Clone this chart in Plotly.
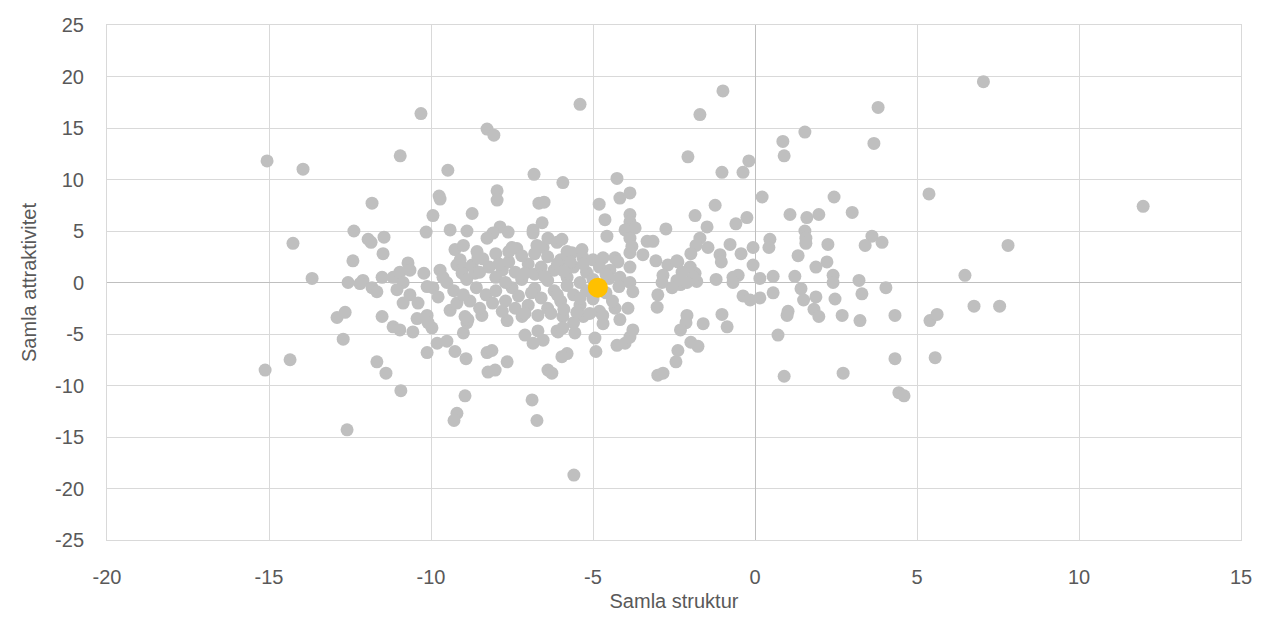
import plotly.graph_objects as go

# Gray points (Samla struktur, Samla attraktivitet)
gray_x = [
    -0.99, -1.70, 3.80, 1.54, 0.86, 0.90, 3.67, -2.07, -0.19, -1.02, -0.37, 0.22, 2.44, 5.37,
    -1.23, -1.85, -1.48, -0.59, -0.25, 1.08, 1.60, 1.97, 3.00, 1.54, 1.57, 1.57, 0.46, 0.43,
    2.25, 3.61, 3.92, 3.40, 1.33, 2.22, 1.88, 2.41, 1.23, 0.56, 3.21, 0.15, -0.06, -0.06,
    -0.43, -0.77, -1.08, -1.04, -1.45, -1.70, -1.82, -1.98, -2.38, -2.00, -2.25, -1.85, -1.20,
    -0.68, -0.52, 6.48, 4.04, 7.05, 11.98, 7.81, 6.76, 7.55,
    -2.30, -1.80, -0.68, 2.41, 0.56, -0.37, -0.15, 0.15, 1.42, 1.50, 1.88, 2.47, 3.30, 1.82,
    1.97, 1.02, 0.99, 2.69, 3.24, 4.32, 5.40, 5.62, -1.02, -0.86, -1.60, -2.10, -2.13, -2.30,
    -1.98, -1.76, -2.38, -2.44, 0.71, 0.90, 2.72, 4.32, 5.56, 4.44, 4.60,
    -1.91, -2.41, -2.56, -2.10, -2.75, -3.06, -2.69, -2.41, -2.84, -2.87, -3.00, -3.02, -3.00,
    -2.84, -3.46, -3.33, -3.15,
    -15.06, -13.95, -10.95, -11.82, -12.38, -11.94, -11.85, -11.45, -14.26, -12.41, -11.48,
    -13.67, -12.56, -12.10, -12.19, -11.51, -11.82, -11.67, -11.17, -10.96, -10.71, -10.65,
    -10.86, -11.05, -10.22, -10.65, -10.86, -10.40, -10.12, -12.90, -12.65, -12.71, -11.51,
    -11.17, -10.96, -10.56, -10.43, -10.12, -10.09, -9.97, -11.67, -11.39, -10.93, -14.35,
    -15.12, -12.59, -10.31, -10.15, -9.94, -10.12, -9.81,
    -9.75, -9.72, -7.96, -7.96, -8.73, -9.41, -8.89, -8.27, -8.06, -5.40, -9.48, -6.82, -5.93,
    -4.26, -4.81, -4.63, -4.17, -3.86, -6.67, -6.51, -7.87, -8.09, -7.62, -6.57, -6.85, -3.86,
    -3.86, -4.01, -3.70, -4.57, -3.86, -3.80, -3.86, -9.26, -9.00, -8.58, -8.27, -7.35, -6.85,
    -6.73, -6.54, -6.39, -6.11, -5.96, -5.80, -5.65, -5.34, -5.31, -4.69, -4.32, -4.23, -3.86,
    -4.48, -4.17, -3.86, -3.77, -9.20, -9.10, -9.00, -9.72, -9.63, -9.51, -9.94, -9.78, -9.41,
    -9.20, -8.43, -9.00, -8.89, -8.86, -8.95, -9.51, -9.26, -8.92, -8.95, -9.20, -9.29, -8.27,
    -8.12, -8.02, -8.24, -7.65, -6.88, -6.73, -5.59, -6.39, -6.27, -5.80, -5.96, -4.94, -4.91,
    -4.26, -4.01, -3.86, -3.77, -3.92, -4.32, -4.17, -4.69, -5.30, -5.60, -5.93, -6.08, -5.56,
    -7.10, -6.85, -6.70, -6.54, -6.11, -5.93, -7.65, -7.19, -8.73, -8.55, -9.04, -8.64,
    -8.50, -8.20, -8.00, -7.80, -7.60, -7.40, -7.20, -7.00, -6.80, -6.60, -6.40, -6.20, -6.00,
    -5.80, -5.60, -5.40, -5.20, -5.00, -8.60, -8.30, -8.00, -7.70, -7.50, -7.30, -7.00, -6.80,
    -6.60, -6.40, -6.20, -6.00, -5.80, -5.60, -5.40, -5.20, -5.00, -4.80, -4.60, -4.40, -4.20,
    -4.50, -8.80, -8.50, -8.10, -7.80, -7.40, -7.10, -6.70, -6.30, -5.90, -5.50, -5.10, -4.70,
    -8.40, -8.00, -7.60, -7.20, -6.80, -6.40, -6.10, -5.70, -5.00, -4.80, -4.60, -4.90, -7.90,
    -7.10, -6.50, -5.90, -5.30, -6.90, -6.10, -5.40, -7.70, -8.90, -9.30, -9.00, -7.50,
]
gray_y = [
    18.6, 16.3, 17.0, 14.6, 13.7, 12.3, 13.5, 12.2, 11.8, 10.7, 10.7, 8.3, 8.3, 8.6,
    7.5, 6.5, 5.4, 5.7, 6.3, 6.6, 6.3, 6.6, 6.8, 5.0, 4.3, 3.8, 4.2, 3.4,
    3.7, 4.5, 3.9, 3.6, 2.6, 2.0, 1.5, 0.7, 0.6, 0.6, 0.2, 0.4, 3.4, 1.7,
    2.8, 3.7, 2.7, 2.0, 3.4, 4.3, 3.6, 2.8, 2.0, 1.5, 1.0, 0.9, 0.3,
    0.5, 0.7, 0.7, -0.5, 19.5, 7.4, 3.6, -2.3, -2.3,
    -0.2, 0.1, 0.0, 0.0, -1.0, -1.3, -1.7, -1.5, -0.6, -1.7, -1.4, -1.6, -1.1, -2.6,
    -3.3, -2.8, -3.2, -3.2, -3.7, -3.2, -3.7, -3.1, -3.1, -4.3, -4.0, -3.2, -3.9, -4.6,
    -5.8, -6.2, -6.6, -7.7, -5.1, -9.1, -8.8, -7.4, -7.3, -10.7, -11.0,
    0.5, 0.2, -0.5, 0.0, 5.2, 2.1, 1.7, 2.1, 0.7, 0.0, -1.2, -2.4, -9.0,
    -8.8, 2.7, 4.0, 4.0,
    11.8, 11.0, 12.3, 7.7, 5.0, 4.2, 3.9, 4.4, 3.8, 2.1, 2.8,
    0.4, 0.0, 0.2, -0.1, 0.5, -0.5, -0.9, 0.5, 1.0, 1.9, 1.2,
    0.0, -0.7, 0.9, -1.2, -2.0, -2.0, -0.4, -3.4, -2.9, -5.5, -3.3,
    -4.3, -4.6, -4.8, -3.5, -3.2, -3.9, -4.4, -7.7, -8.8, -10.5, -7.5,
    -8.5, -14.3, 16.4, 4.9, 6.5, -6.8, -5.9,
    8.4, 8.1, 8.9, 8.0, 6.7, 5.1, 5.0, 14.9, 14.3, 17.3, 10.9, 10.5, 9.7,
    10.1, 7.6, 6.1, 8.2, 8.7, 7.7, 7.8, 5.4, 4.8, 4.9, 5.8, 5.1, 6.6,
    5.9, 5.1, 5.3, 4.5, 4.3, 3.5, 2.9, 3.2, 3.6, 3.0, 4.3, 3.3, 4.8,
    3.6, 3.4, 4.3, 3.9, 4.2, 3.0, 2.9, 3.2, 2.4, 2.4, 2.4, 2.0, 1.5,
    1.2, 0.5, 0.0, -0.9, 1.7, 2.2, 1.4, 1.2, 0.5, 0.0, -0.5, -1.4, -2.7,
    -2.0, -3.2, -4.9, -3.9, -3.6, -3.3, -5.7, -6.7, -7.4, -11.0, -12.7, -13.4, -6.8,
    -6.6, -8.5, -8.7, -7.7, -11.4, -13.4, -18.7, -8.5, -8.8, -6.9, -7.2, -5.4, -6.7,
    -6.1, -5.9, -5.3, -4.6, -2.5, -2.5, -3.6, -4.0, -3.3, -3.9, -3.3, -4.8, -4.9,
    -5.1, -5.9, -4.7, -5.6, -4.7, -4.4, -3.7, -3.3, 1.7, 2.4, 0.9, 0.9,
    1.0, 1.5, 0.5, 1.2, 2.0, 1.0, 0.3, 1.8, 0.8, 1.5, 0.2, 1.2, 2.2,
    0.5, 1.5, 0.0, 1.0, 0.3, -0.5, -1.2, -0.8, -1.8, -0.5, -1.3, -2.2, -0.6,
    -1.5, -2.5, -0.8, -1.8, -0.3, -1.2, -2.2, -0.8, -1.6, -2.8, -1.0, -1.8, -0.4,
    0.4, -1.8, -2.5, -2.0, -2.8, -2.5, -3.0, -3.2, -3.0, -2.6, -2.9, -3.0, -3.2,
    2.3, 2.8, 3.0, 2.6, 2.8, 2.5, 1.8, 2.0, 2.2, 1.5, 0.8, -0.2, 1.8,
    0.9, 0.6, 1.1, 1.8, -1.0, -1.2, -1.5, 0.0, 0.3, -0.8, -1.2, 3.4,
]

# Highlighted point
highlight_x = [-4.85]
highlight_y = [-0.5]

x_ticks = [-20, -15, -10, -5, 0, 5, 10, 15]
y_ticks = [-25, -20, -15, -10, -5, 0, 5, 10, 15, 20, 25]

font_family = "Liberation Sans, Arial, sans-serif"
text_color = "#595959"

fig = go.Figure()
fig.add_trace(go.Scatter(
    x=gray_x, y=gray_y, mode="markers",
    marker=dict(color="#BFBFBF", size=13, line=dict(width=0)),
    showlegend=False, hoverinfo="x+y",
))
fig.add_trace(go.Scatter(
    x=highlight_x, y=highlight_y, mode="markers",
    marker=dict(color="#FFC000", size=20, line=dict(width=0)),
    showlegend=False, hoverinfo="x+y",
))

# page body has an 8px default margin; sizes compensate so the plot area
# lands at x 107..1241, y 25..540 in the 1261x620 window
fig.update_layout(
    width=1245, height=604,
    margin=dict(l=99, r=12, t=17, b=72, pad=0),
    paper_bgcolor="white", plot_bgcolor="white",
    font=dict(family=font_family, color=text_color, size=20),
)
fig.update_xaxes(
    range=[-20, 15], tickvals=x_ticks, ticktext=[str(v) for v in x_ticks],
    showgrid=True, gridcolor="#D9D9D9", gridwidth=1,
    zeroline=True, zerolinecolor="#BFBFBF", zerolinewidth=1,
    showline=True, linecolor="#D9D9D9", linewidth=1, mirror=True,
    ticks="", ticklabelstandoff=19, automargin=False,
    tickfont=dict(size=20, color=text_color),
    title=dict(text="Samla struktur", font=dict(size=20, color=text_color), standoff=12),
)
fig.update_yaxes(
    range=[-25, 25], tickvals=y_ticks, ticktext=[str(v) for v in y_ticks],
    showgrid=True, gridcolor="#D9D9D9", gridwidth=1,
    zeroline=True, zerolinecolor="#BFBFBF", zerolinewidth=1,
    showline=True, linecolor="#D9D9D9", linewidth=1, mirror=True,
    ticks="", ticklabelstandoff=18, automargin=False,
    tickfont=dict(size=20, color=text_color),
    title=dict(text="Samla attraktivitet", font=dict(size=20, color=text_color), standoff=13),
)

fig.write_html("out.html")
